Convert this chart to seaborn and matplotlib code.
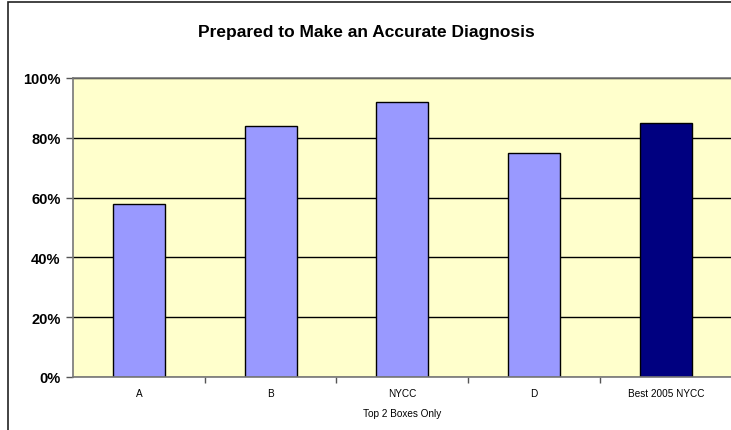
import matplotlib
matplotlib.use("Agg")
import matplotlib.pyplot as plt
from matplotlib.patches import Rectangle
from matplotlib.ticker import FixedLocator, PercentFormatter
import seaborn as sns
import pandas as pd

# Data
categories = ["A", "B", "NYCC", "D", "Best 2005 NYCC"]
values = [58, 84, 92, 75, 85]
bar_colors = ["#9999ff", "#9999ff", "#9999ff", "#9999ff", "#000080"]

df = pd.DataFrame({"group": categories, "pct": values})

sns.set_style("white")
plt.rcParams["font.family"] = ["Liberation Sans", "DejaVu Sans"]
plt.rcParams["text.color"] = "black"
plt.rcParams["xtick.color"] = "black"
plt.rcParams["ytick.color"] = "black"
plt.rcParams["axes.labelcolor"] = "black"

fig = plt.figure(figsize=(7.31, 4.31), dpi=100)
ax = fig.add_axes([73 / 731, 1 - 378 / 431, 1 - 73 / 731 + 0.001, 299 / 431])

# outer chart frame (extends past the right/bottom edge like the original)
fig.patches.append(Rectangle((8 / 731, -0.1), 1.2, 1 - 3 / 431 + 0.1,
                             transform=fig.transFigure, fill=False,
                             edgecolor="#222222", linewidth=1.2, zorder=0))

ax.set_facecolor("#ffffcc")
ax.set_axisbelow(True)
ax.yaxis.grid(True, color="black", linewidth=1)

sns.barplot(data=df, x="group", y="pct", hue="group", palette=bar_colors,
            legend=False, width=0.395, edgecolor="black", linewidth=1,
            saturation=1, ax=ax)

ax.set_ylim(0, 100)
ax.set_xlim(-0.5, len(categories) - 0.5)
ax.yaxis.set_major_locator(FixedLocator([0, 20, 40, 60, 80, 100]))
ax.yaxis.set_major_formatter(PercentFormatter(decimals=0))
ax.set_ylabel("")
ax.set_xlabel("Top 2 Boxes Only", fontsize=7.2, labelpad=7)

for lbl in ax.get_yticklabels():
    lbl.set_fontweight("bold")
ax.tick_params(axis="y", labelsize=10.5, length=5, width=1, color="#555555",
               labelcolor="black", direction="out", left=True, pad=4)
ax.tick_params(axis="x", which="major", labelsize=7.2, length=0, pad=8,
               labelcolor="black")
ax.xaxis.set_minor_locator(FixedLocator([0.5, 1.5, 2.5, 3.5]))
ax.tick_params(axis="x", which="minor", length=4, width=1, color="#555555",
               direction="out", bottom=True)

for side in ["top", "left", "bottom"]:
    ax.spines[side].set_visible(True)
    ax.spines[side].set_color("#777777")
    ax.spines[side].set_linewidth(1.2)
ax.spines["right"].set_visible(False)

fig.text(366 / 731, 1 - 33 / 431, "Prepared to Make an Accurate Diagnosis",
         ha="center", va="center", fontsize=12.5, fontweight="bold",
         color="black")

fig.savefig("out.png", dpi=100)
